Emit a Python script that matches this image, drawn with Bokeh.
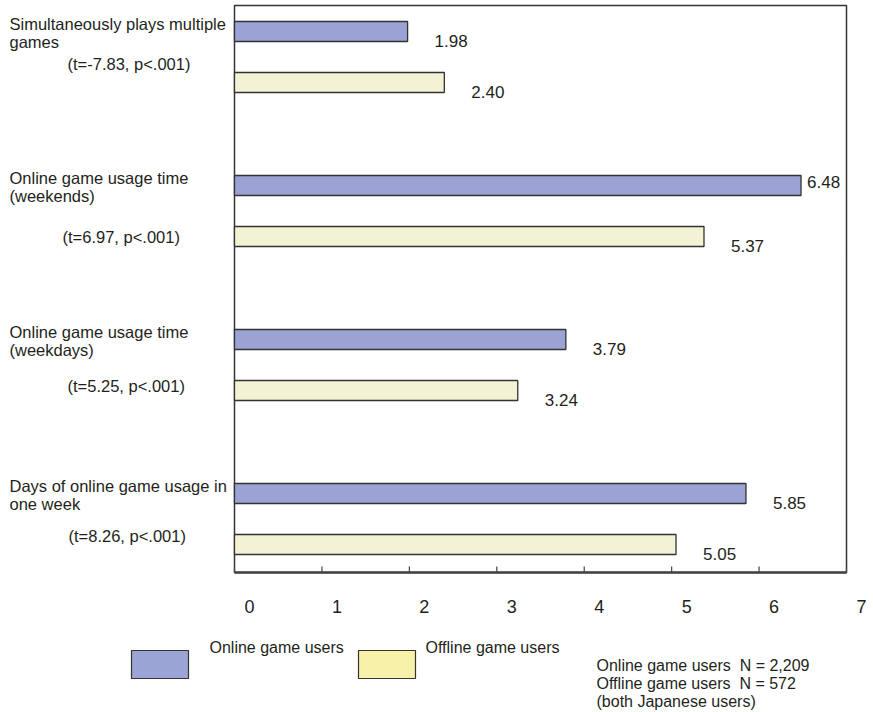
from bokeh.plotting import figure
from bokeh.models import Range1d, Label, ColumnDataSource
from bokeh.core.properties import value
from bokeh.embed import file_html
from bokeh.resources import INLINE

# ---------------- data ----------------
cat_line1 = ["Simultaneously plays multiple", "Online game usage time",
             "Online game usage time", "Days of online game usage in"]
cat_line2 = ["games", "(weekends)", "(weekdays)", "one week"]
stats = ["(t=-7.83, p<.001)", "(t=6.97, p<.001)", "(t=5.25, p<.001)", "(t=8.26, p<.001)"]
online = [1.98, 6.48, 3.79, 5.85]
offline = [2.40, 5.37, 3.24, 5.05]
x_ticks = [0, 1, 2, 3, 4, 5, 6, 7]
series_names = ["Online game users", "Offline game users"]
notes = ["Online game users\u00a0 N = 2,209", "Offline game users\u00a0 N = 572", "(both Japanese users)"]

# ---------------- layout / style ----------------
FONT = value("Liberation Sans")
TXT = "#231f20"
ON_FILL = "#9aa3d3"
OFF_FILL = "#f4f2d5"
ON_LEG = "#9ba5d5"
OFF_LEG = "#f7f1a9"
EDGE = "#333333"

W, H = 873, 712
FL, FR, FT, FB = 234, 846, 5, 572          # plot box edges in pixels
PX_X = (FR - FL) / 7.0
PX_Y = 154.0                                 # pixels per group
G0 = 56.5                                    # pixel centre of first group
Y_TOP = -(G0 - FT) / PX_Y
Y_BOT = 3 + (FB - (G0 + 3 * PX_Y)) / PX_Y
SHIFT = 25.5 / PX_Y
BAR_H = 20 / PX_Y


def to_x(px):
    return (px - FL) / PX_X


def to_y(py):
    return Y_TOP + (py - FT) / PX_Y


p = figure(width=W, height=H, x_range=Range1d(to_x(0), to_x(W)),
           y_range=Range1d(to_y(H), to_y(0)),
           output_backend="svg", toolbar_location=None, min_border=0)
p.xaxis.visible = False
p.yaxis.visible = False
p.grid.visible = False
p.outline_line_color = None
p.background_fill_color = "white"
p.border_fill_color = "white"

x0, x1 = x_ticks[0], x_ticks[-1]

# plot box
p.quad(left=[x0], right=[x1], top=[Y_TOP], bottom=[Y_BOT], fill_color=None,
       line_color=EDGE, line_width=1.5)

groups = list(range(len(online)))
src_on = ColumnDataSource(dict(y=[g - SHIFT for g in groups], right=online))
src_off = ColumnDataSource(dict(y=[g + SHIFT for g in groups], right=offline))
p.hbar(y="y", left=0, right="right", height=BAR_H, source=src_on,
       fill_color=ON_FILL, line_color=EDGE, line_width=1.3)
p.hbar(y="y", left=0, right="right", height=BAR_H, source=src_off,
       fill_color=OFF_FILL, line_color=EDGE, line_width=1.3)

# x axis line, ticks and labels
p.segment(x0=[x0], x1=[x1], y0=[Y_BOT], y1=[Y_BOT], line_color="#444444", line_width=2.5)
p.segment(x0=x_ticks, x1=x_ticks, y0=[Y_BOT] * len(x_ticks),
          y1=[Y_BOT - 6 / PX_Y] * len(x_ticks), line_color="#444444", line_width=1.2)
p.text(x=[t + 15 / PX_X for t in x_ticks], y=[to_y(606)] * len(x_ticks),
       text=[str(t) for t in x_ticks], text_font=FONT, text_font_size="18px",
       text_color=TXT, text_align="center", text_baseline="middle")

# value labels
lx, ly, lt = [], [], []
for vals, sign in ((online, -1), (offline, 1)):
    for g, v in zip(groups, vals):
        if v + 67 / PX_X > 7:
            lx.append(v + 6 / PX_X)
            ly.append(g + sign * SHIFT - 4 / PX_Y)
        else:
            lx.append(v + 27 / PX_X)
            ly.append(g + sign * SHIFT + 9 / PX_Y)
        lt.append(f"{v:.2f}")
p.text(x="x", y="y", text="t", source=ColumnDataSource(dict(x=lx, y=ly, t=lt)),
       text_font=FONT, text_font_size="17px", text_color=TXT,
       text_align="left", text_baseline="middle")

# category labels
stat_dy = [6.5, 25.5, 20.5, 16.5]
stat_x = [67, 62, 67, 68]
for g in groups:
    for txt, dy, xx in ((cat_line1[g], -33, 9), (cat_line2[g], -15, 9),
                        (stats[g], stat_dy[g], stat_x[g])):
        p.add_layout(Label(x=to_x(xx), y=g + dy / PX_Y, text=txt,
                           text_font="Liberation Sans", text_font_size="16.5px",
                           text_color=TXT, text_align="left", text_baseline="middle"))

# legend: swatches and their names
sw_left = [131, 358]
txt_left = [209, 425]
p.quad(left=[to_x(v) for v in sw_left], right=[to_x(v + 57) for v in sw_left],
       top=[to_y(650)] * 2, bottom=[to_y(678)] * 2,
       fill_color=[ON_LEG, OFF_LEG], line_color=EDGE, line_width=1.2)
p.text(x=[to_x(v) for v in txt_left], y=[to_y(647)] * 2, text=series_names,
       text_font=FONT, text_font_size="16px", text_color=TXT,
       text_align="left", text_baseline="middle")

# notes
for i, n in enumerate(notes):
    p.add_layout(Label(x=to_x(596), y=to_y(665 + 18 * i), text=n,
                       text_font="Liberation Sans", text_font_size="16px",
                       text_color=TXT, text_align="left", text_baseline="middle"))

open("out.html", "w").write(file_html(p, INLINE))
